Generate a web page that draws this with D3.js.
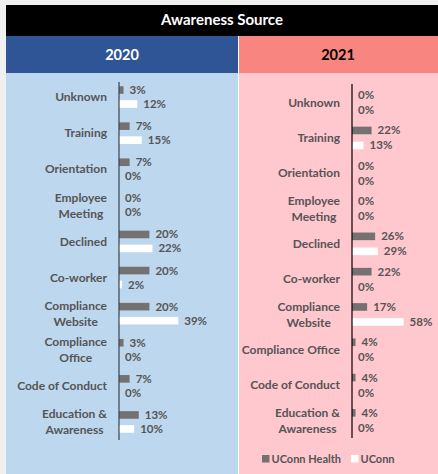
<!DOCTYPE html>
<html>
<head>
<meta charset="utf-8">
<script src="https://cdn.jsdelivr.net/npm/d3@7"></script>
<style>
  body { margin: 0; background: #f0f0f0; }
  svg text { font-family: Lato, "Open Sans", sans-serif; font-weight: bold; }
</style>
</head>
<body>
<svg id="main" width="438" height="474"></svg>
<script>
// categories in display order (top to bottom)
var categories = ["Unknown", "Training", "Orientation", "Employee Meeting", "Declined",
  "Co-worker", "Compliance Website", "Compliance Office", "Code of Conduct", "Education & Awareness"];

// how the tick labels wrap in each panel
var labels2020 = [["Unknown"], ["Training"], ["Orientation"], ["Employee", "Meeting"], ["Declined"],
  ["Co-worker"], ["Compliance", "Website"], ["Compliance", "Office"], ["Code of Conduct"], ["Education &", "Awareness"]];
var labels2021 = [["Unknown"], ["Training"], ["Orientation"], ["Employee", "Meeting"], ["Declined"],
  ["Co-worker"], ["Compliance", "Website"], ["Compliance Office"], ["Code of Conduct"], ["Education &", "Awareness"]];

var series = ["UConn Health", "UConn"];

// percent values
var health2020 = [3, 7, 7, 0, 20, 20, 20, 3, 7, 13];
var uconn2020  = [12, 15, 0, 0, 22, 2, 39, 0, 0, 10];
var health2021 = [0, 22, 0, 0, 26, 22, 17, 4, 4, 4];
var uconn2021  = [0, 13, 0, 0, 29, 0, 58, 0, 0, 0];

var svg = d3.select("svg#main");
var textColor = "#555555";
var barColors = {"UConn Health": "#767171", "UConn": "#ffffff"};

// backgrounds and headers
svg.append("rect").attr("x", 6).attr("y", 5).attr("width", 432).attr("height", 31).attr("fill", "#000");
svg.append("text").attr("x", 222).attr("y", 20).attr("dy", "0.36em").attr("text-anchor", "middle")
  .attr("fill", "#fff").style("font-size", "15px").text("Awareness Source");

svg.append("rect").attr("x", 6).attr("y", 36).attr("width", 232).attr("height", 37).attr("fill", "#2f5597");
svg.append("rect").attr("x", 239).attr("y", 36).attr("width", 199).attr("height", 37).attr("fill", "#f8857f");
svg.append("rect").attr("x", 6).attr("y", 73).attr("width", 232).attr("height", 401).attr("fill", "#bdd7ee");
svg.append("rect").attr("x", 239).attr("y", 73).attr("width", 199).attr("height", 401).attr("fill", "#ffc7ce");
svg.append("rect").attr("x", 238).attr("y", 36).attr("width", 1).attr("height", 438).attr("fill", "#fff");

svg.append("text").attr("x", 122).attr("y", 55).attr("dy", "0.36em").attr("text-anchor", "middle")
  .attr("fill", "#fff").style("font-size", "14.5px").text("2020");
svg.append("text").attr("x", 338).attr("y", 55).attr("dy", "0.36em").attr("text-anchor", "middle")
  .attr("fill", "#000").style("font-size", "14.5px").text("2021");

function drawPanel(opts) {
  var y = d3.scaleBand().domain(categories).range(opts.yRange);
  var x = d3.scaleLinear().domain([0, 100]).range([opts.x0, opts.x0 + opts.pxPer100]);
  var inner = d3.scalePoint().domain(series).range([-opts.gap, opts.gap]);
  var g = svg.append("g");

  var rows = categories.map(function (c, i) {
    return {cat: c, vals: [{s: series[0], v: opts.health[i]}, {s: series[1], v: opts.uconn[i]}], lines: opts.labels[i]};
  });

  var row = g.selectAll("g.row").data(rows).enter().append("g").attr("class", "row")
    .attr("transform", function (d) { return "translate(0," + (y(d.cat) + y.bandwidth() / 2) + ")"; });

  row.selectAll("rect").data(function (d) { return d.vals; }).enter().append("rect")
    .attr("x", x(0))
    .attr("y", function (d) { return inner(d.s) - 3.8; })
    .attr("width", function (d) { return x(d.v) - x(0); })
    .attr("height", 7.6)
    .attr("fill", function (d) { return barColors[d.s]; });

  row.selectAll("text.val").data(function (d) { return d.vals; }).enter().append("text")
    .attr("class", "val")
    .attr("x", function (d) { return x(d.v) + 6; })
    .attr("y", function (d) { return inner(d.s); })
    .attr("dy", "0.35em")
    .attr("fill", textColor)
    .style("font-size", "11.5px")
    .text(function (d) { return d.v + "%"; });

  // category labels: block right aligned, lines centered within it
  row.each(function (d) {
    var lab = d3.select(this).append("text").attr("fill", textColor).style("font-size", "12px")
      .attr("text-anchor", "middle");
    var n = d.lines.length;
    d.lines.forEach(function (l, k) {
      lab.append("tspan").attr("y", (k - (n - 1) / 2) * 16).attr("dy", "0.35em").text(l);
    });
    var w = 0;
    lab.selectAll("tspan").each(function () { w = Math.max(w, this.getComputedTextLength()); });
    lab.selectAll("tspan").attr("x", opts.labelRight - w / 2);
  });

  g.append("line").attr("x1", x(0)).attr("x2", x(0))
    .attr("y1", opts.axisY[0]).attr("y2", opts.axisY[1])
    .attr("stroke", opts.axisColor).attr("stroke-width", 1.2);
}

drawPanel({health: health2020, uconn: uconn2020, labels: labels2020, yRange: [79, 440],
  x0: 119, pxPer100: 152, gap: 7, labelRight: 107, axisY: [82, 440], axisColor: "#3a4354"});
drawPanel({health: health2021, uconn: uconn2021, labels: labels2021, yRange: [85, 438],
  x0: 352, pxPer100: 89, gap: 7.5, labelRight: 340, axisY: [84, 438], axisColor: "#000"});

// legend
var legend = svg.append("g").selectAll("g").data(series).enter().append("g")
  .attr("transform", function (d, i) { return "translate(" + [262, 351][i] + ",459)"; });
legend.append("rect").attr("x", 0).attr("y", -4).attr("width", 7.5).attr("height", 7.5)
  .attr("fill", function (d) { return barColors[d]; });
legend.append("text").attr("x", 9.5).attr("y", 0).attr("dy", "0.35em").attr("fill", textColor)
  .style("font-size", "11px").text(function (d) { return d; });
</script>
</body>
</html>
